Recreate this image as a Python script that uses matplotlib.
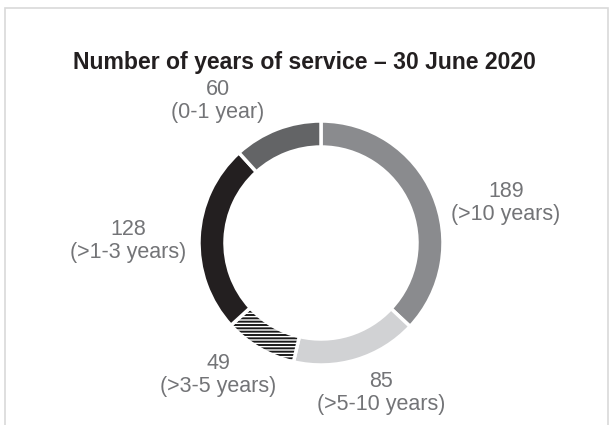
import matplotlib.pyplot as plt
from matplotlib.patches import Rectangle

# --- Data ---
values = [189, 85, 49, 128, 60]
categories = ['>10 years', '>5-10 years', '>3-5 years', '>1-3 years', '0-1 year']
colors = ['#8a8b8e', '#d1d2d4', '#ffffff', '#231f20', '#636466']
hatches = [None, None, '-----', None, None]
# label centres in pixel coords (x, y from top)
label_pos = [(506, 203), (381, 393), (218, 375), (128, 241), (218, 101)]

W, H = 612, 425
plt.rcParams['font.family'] = ['Liberation Sans', 'DejaVu Sans']
plt.rcParams['hatch.linewidth'] = 1.4
fig = plt.figure(figsize=(W / 100, H / 100), dpi=100)
ax = fig.add_axes([0, 0, 1, 1])

# light frame around the chart
fig.add_artist(Rectangle((4.5 / W, -0.1), (W - 9) / W, 1.1 - 8 / H,
                         transform=fig.transFigure, fill=False,
                         edgecolor='#d9d9d9', linewidth=1.2))

wedges, _ = ax.pie(values, colors=colors, startangle=90, counterclock=False,
                   center=(321, H - 243), radius=122,
                   wedgeprops=dict(width=26, edgecolor='white', linewidth=2.5))
for w, h in zip(wedges, hatches):
    if h:
        w.set_hatch(h)
        w._hatch_color = (0.1, 0.1, 0.1, 1)

ax.set_xlim(0, W)
ax.set_ylim(0, H)
ax.set_aspect('equal')
ax.axis('off')

for v, c, (x, y) in zip(values, categories, label_pos):
    ax.text(x, H - y, f'{v}\n({c})', ha='center', va='center',
            fontsize=15.5, color='#737477', linespacing=1.15)

fig.text(0.497, 1 - 62 / H, 'Number of years of service \u2013 30 June 2020',
         ha='center', va='center', fontsize=16.6, fontweight='bold', color='#231f20')

fig.savefig('out.png', dpi=100)
